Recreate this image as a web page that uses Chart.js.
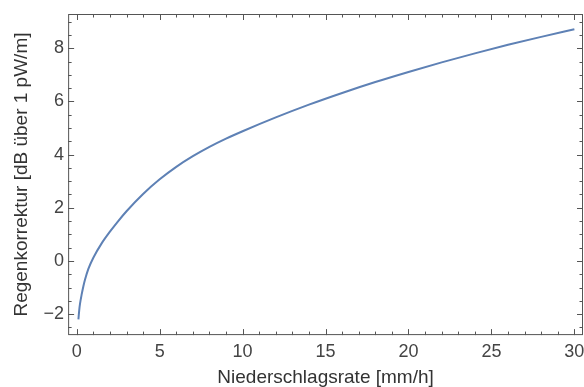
<!DOCTYPE html>
<html>
<head>
<meta charset="utf-8">
<script src="https://cdn.jsdelivr.net/npm/chart.js@4.4.0/dist/chart.umd.min.js"></script>
<style>
  html, body { margin: 0; padding: 0; background: #fff; }
  #wrap { width: 584px; height: 387px; position: relative; }
</style>
</head>
<body>
<div id="wrap"><canvas id="myChart" width="584" height="387"></canvas></div>
<script>
// rain rate (mm/h) and rain correction (dB)
const rainRate = [0.1, 0.15, 0.2, 0.3, 0.4, 0.5, 0.7, 1, 1.5, 2, 2.5, 3, 4, 5, 6, 7, 8, 9, 10, 12, 14, 16, 18, 20, 22, 24, 26, 28, 30];
const correction = [-2.2, -1.85, -1.6, -1.25, -0.95, -0.7, -0.3, 0.12, 0.66, 1.1, 1.5, 1.87, 2.52, 3.07, 3.54, 3.94, 4.29, 4.6, 4.88, 5.4, 5.88, 6.32, 6.73, 7.11, 7.47, 7.81, 8.13, 8.43, 8.72];

const xTicks = [0, 5, 10, 15, 20, 25, 30];
const yTicks = [-2, 0, 2, 4, 6, 8];
const xMinor = [];
for (let i = 0; i <= 30; i++) xMinor.push(i);
const yMinor = [];
for (let v = -2.5; v <= 9; v += 0.5) yMinor.push(v);

const frameColor = '#555';
const tickFont = { family: 'Liberation Sans, Arial, sans-serif', size: 18, lineHeight: 1.1 };
const titleFont = { family: 'Liberation Sans, Arial, sans-serif', size: 19, lineHeight: 0.9 };

// Mathematica-ish frame: ticks pointing inward on all four sides
const frameTicks = {
  id: 'frameTicks',
  afterDatasetsDraw(chart) {
    const { ctx, chartArea: a, scales: { x, y } } = chart;
    ctx.save();
    ctx.strokeStyle = frameColor;
    ctx.lineWidth = 1;
    ctx.strokeRect(a.left + 0.5, a.top + 0.5, a.right - a.left - 1, a.bottom - a.top - 1);
    ctx.beginPath();
    xMinor.forEach(v => {
      const px = Math.round(x.getPixelForValue(v)) + 0.5;
      const len = xTicks.includes(v) ? 6 : 3.5;
      ctx.moveTo(px, a.bottom); ctx.lineTo(px, a.bottom - len);
      ctx.moveTo(px, a.top); ctx.lineTo(px, a.top + len);
    });
    yMinor.forEach(v => {
      const py = Math.round(y.getPixelForValue(v)) + 0.5;
      const len = yTicks.includes(v) ? 6 : 3.5;
      ctx.moveTo(a.left, py); ctx.lineTo(a.left + len, py);
      ctx.moveTo(a.right, py); ctx.lineTo(a.right - len, py);
    });
    ctx.stroke();
    ctx.restore();
  }
};

const ctx = document.getElementById('myChart').getContext('2d');
const myChart = new Chart(ctx, {
  type: 'line',
  data: {
    datasets: [{
      data: rainRate.map((r, i) => ({ x: r, y: correction[i] })),
      borderColor: '#5E81B5',
      borderWidth: 2,
      pointRadius: 0,
      fill: false,
      cubicInterpolationMode: 'monotone'
    }]
  },
  options: {
    responsive: false,
    animation: false,
    layout: { padding: { top: 14, right: 1, left: 13.5, bottom: 1 } },
    plugins: { legend: { display: false }, tooltip: { enabled: false } },
    scales: {
      x: {
        type: 'linear',
        min: -0.52,
        max: 30.52,
        afterBuildTicks: s => { s.ticks = xTicks.map(v => ({ value: v })); },
        afterFit: s => { s.paddingRight = 0; s.paddingLeft = 0; },
        grid: { display: false, drawTicks: false },
        border: { display: false },
        ticks: { color: '#444', font: tickFont, padding: 7, maxRotation: 0 },
        title: {
          display: true,
          text: 'Niederschlagsrate [mm/h]',
          color: '#333',
          font: titleFont,
          padding: { top: 0, bottom: 0 }
        }
      },
      y: {
        type: 'linear',
        min: -2.79,
        max: 9.29,
        afterBuildTicks: s => { s.ticks = yTicks.map(v => ({ value: v })); },
        grid: { display: false, drawTicks: false },
        border: { display: false },
        ticks: {
          color: '#444', font: tickFont, padding: 4,
          callback: v => (v < 0 ? '\u2212' + Math.abs(v) : String(v))
        },
        title: {
          display: true,
          text: 'Regenkorrektur [dB über 1 pW/m]',
          color: '#333',
          font: titleFont,
          padding: { top: 0, bottom: 9 }
        }
      }
    }
  },
  plugins: [frameTicks]
});
</script>
</body>
</html>
